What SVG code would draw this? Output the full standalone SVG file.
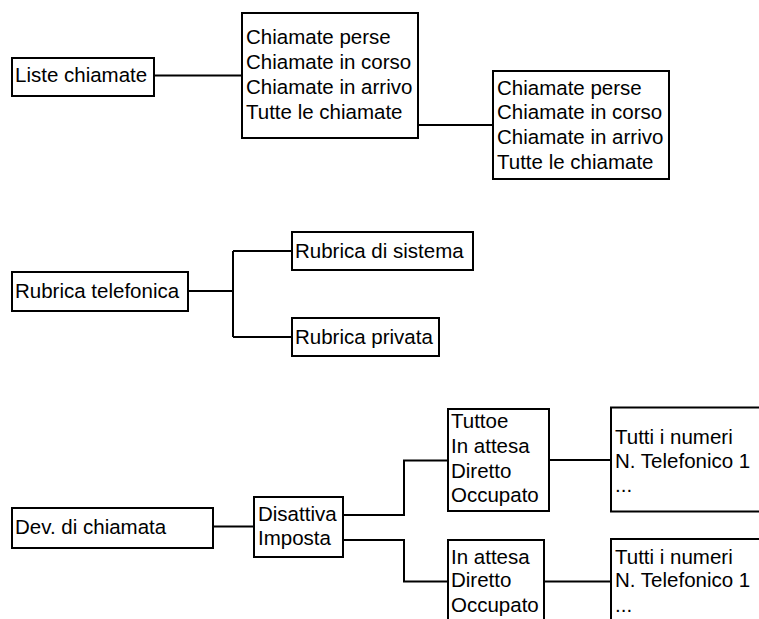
<svg xmlns="http://www.w3.org/2000/svg" width="759" height="619" viewBox="0 0 759 619">
<style>
rect{fill:#fff;stroke:#000;stroke-width:2}
text{font-family:"Liberation Sans",Arial,sans-serif;font-size:20.5px;fill:#000}
.c path{fill:none;stroke:#000;stroke-width:2}
</style>
<rect x="0" y="0" width="759" height="619" style="stroke:none"/>
<g class="c" id="connectors">
<path d="M154 75.5H242"/>
<path d="M418 125H493"/>
<path d="M188 291H233M233 251V337M233 251H292M233 337H292"/>
<path d="M213 526.5H254"/>
<path d="M343 515H404V460.5H448"/>
<path d="M343 540H404V581.5H448"/>
<path d="M549 460H611"/>
<path d="M544 581.5H611"/>
</g>
<g id="liste"><rect x="12" y="58" width="142" height="38"/><text x="15" y="82">Liste chiamate</text></g>
<g id="chiamate1"><rect x="242" y="13" width="176" height="125"/>
<text x="246" y="44">Chiamate perse</text><text x="246" y="69">Chiamate in corso</text><text x="246" y="94">Chiamate in arrivo</text><text x="246" y="118.5">Tutte le chiamate</text></g>
<g id="chiamate2"><rect x="493" y="71" width="176" height="108"/>
<text x="497" y="94.5">Chiamate perse</text><text x="497" y="119">Chiamate in corso</text><text x="497" y="144">Chiamate in arrivo</text><text x="497" y="168.5">Tutte le chiamate</text></g>
<g id="rubrica"><rect x="12" y="272" width="176" height="39"/><text x="15" y="297.5">Rubrica telefonica</text></g>
<g id="sistema"><rect x="292" y="232" width="181" height="38"/><text x="295" y="258">Rubrica di sistema</text></g>
<g id="privata"><rect x="292" y="318" width="147" height="38"/><text x="295" y="343.5">Rubrica privata</text></g>
<g id="dev"><rect x="12" y="508" width="201" height="40"/><text x="15" y="533.5">Dev. di chiamata</text></g>
<g id="disattiva"><rect x="254" y="497" width="89" height="60"/><text x="258" y="521">Disattiva</text><text x="258" y="545">Imposta</text></g>
<g id="tuttoe"><rect x="448" y="409" width="101" height="102"/>
<text x="451" y="428">Tuttoe</text><text x="451" y="453">In attesa</text><text x="451" y="478">Diretto</text><text x="451" y="502">Occupato</text></g>
<g id="numeri1"><rect x="611" y="407.5" width="160" height="104"/>
<text x="615" y="443.5">Tutti i numeri</text><text x="615" y="467.5">N. Telefonico 1</text><text x="615" y="491.5">...</text></g>
<g id="attesa"><rect x="448" y="540" width="96" height="100"/>
<text x="451" y="563.5">In attesa</text><text x="451" y="587">Diretto</text><text x="451" y="611.5">Occupato</text></g>
<g id="numeri2"><rect x="611" y="539" width="160" height="100"/>
<text x="615" y="563.5">Tutti i numeri</text><text x="615" y="587">N. Telefonico 1</text><text x="615" y="611.5">...</text></g>
</svg>
